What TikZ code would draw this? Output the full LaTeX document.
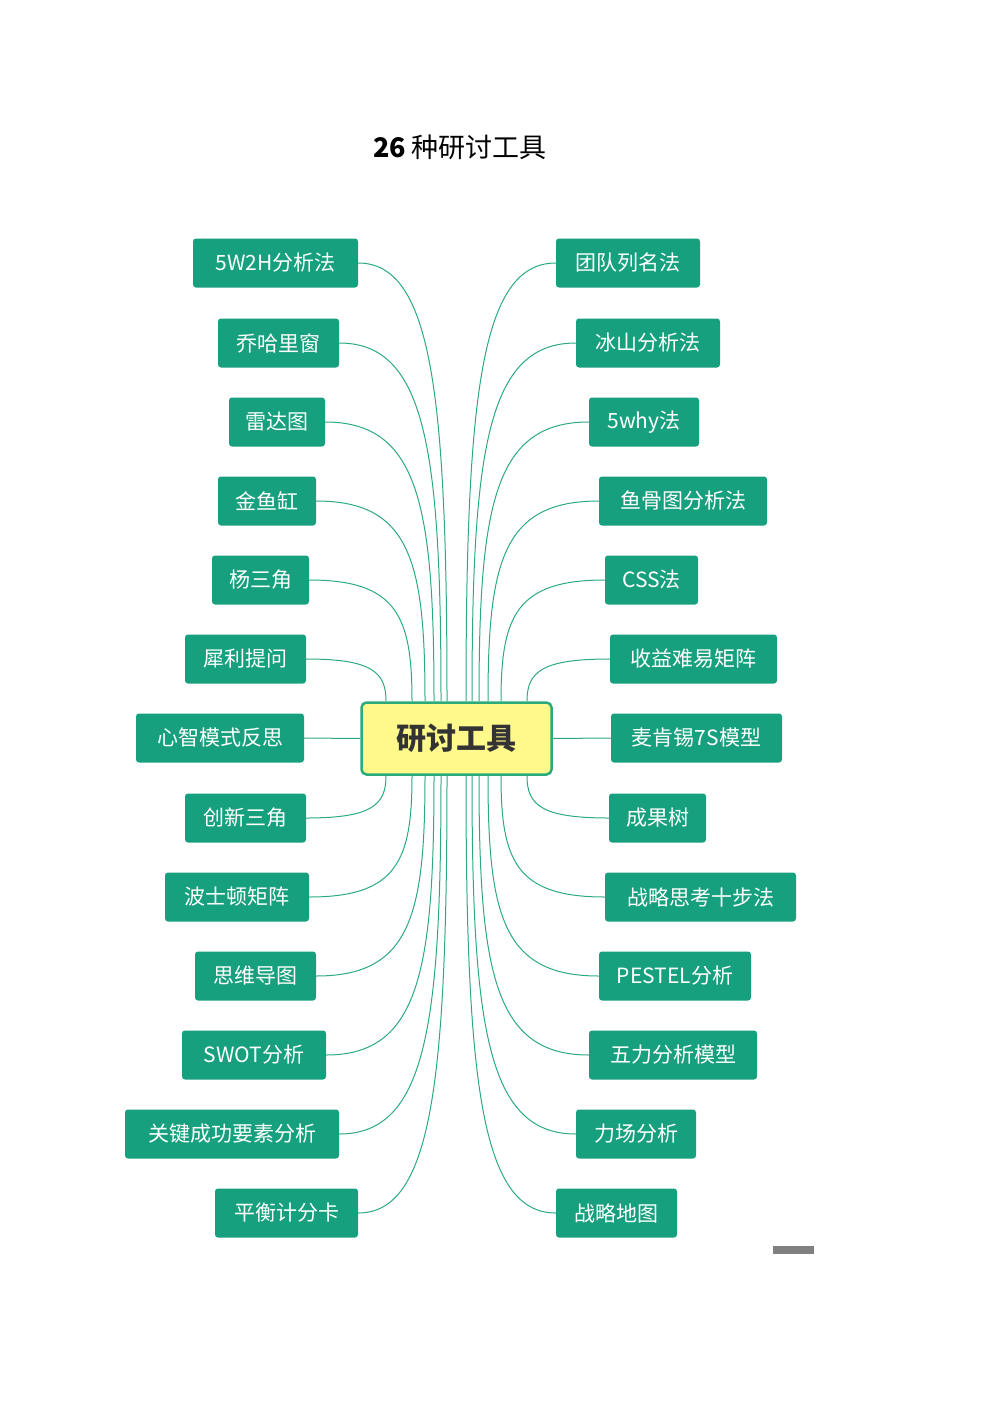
\documentclass[tikz,border=0pt]{standalone}
\usepackage{fontspec}
\setmainfont{Noto Sans CJK SC}
\begin{document}
\begin{tikzpicture}[x=1pt,y=-1pt,
  leaf/.style={fill=leafg,text=white,rounded corners=3pt,minimum height=49pt,inner xsep=0pt,font=\fontsize{21pt}{21pt}\selectfont,anchor=center},
  link/.style={draw=lineg,line width=1pt}]
\definecolor{leafg}{HTML}{17A07E}
\definecolor{lineg}{HTML}{2BAA7C}
\useasboundingbox (0,0) rectangle (992,1402);
\node at (460,147) {\fontsize{27pt}{27pt}\selectfont\textbf{26} 种研讨工具};
\node[draw=lineg,line width=2.5pt,fill=yellow!45,rounded corners=5pt,minimum width=190pt,minimum height=72pt,font=\fontsize{30pt}{30pt}\selectfont\bfseries,text=black!80] (c) at (456.5,738.5) {研讨工具};
% left nodes: name/left/right/y/text/endx
\foreach \n/\a/\b/\y/\t/\e in {
 l1/193/358/263/5W2H分析法/447,
 l2/218/339/343/乔哈里窗/441,
 l3/229/325/422/雷达图/434,
 l4/218/316/501/金鱼缸/425,
 l5/212/309/580/杨三角/412,
 l6/185/306/659/犀利提问/386}{
 \node[leaf,minimum width=\b-\a] (\n) at ({(\a+\b)/2},\y) {\t};
 \coordinate (\n e) at (\e,701);
 \draw[link] (\n.east) .. controls ({\e-15},\y) and (\e,{\y+(701-\y)*0.3}) .. (\n e);
}
\foreach \n/\a/\b/\y/\t/\e in {
 l8/185/306/818/创新三角/386,
 l9/165/309/897/波士顿矩阵/412,
 l10/195/316/976/思维导图/425,
 l11/182/326/1055/SWOT分析/434,
 l12/125/339/1134/关键成功要素分析/441,
 l13/215/358/1213/平衡计分卡/447}{
 \node[leaf,minimum width=\b-\a] (\n) at ({(\a+\b)/2},\y) {\t};
 \coordinate (\n e) at (\e,776);
 \draw[link] (\n.east) .. controls ({\e-15},\y) and (\e,{\y-(\y-776)*0.3}) .. (\n e);
}
\node[leaf,minimum width=168] (l7) at (220,738) {心智模式反思};
\draw[link] (l7.east) -- (c.west);
\foreach \n/\a/\b/\y/\t/\e in {
 r1/556/700/263/团队列名法/466,
 r2/576/720/343/冰山分析法/472,
 r3/589/699/422/5why法/479,
 r4/599/767/501/鱼骨图分析法/488,
 r5/605/698/580/CSS法/501,
 r6/610/777/659/收益难易矩阵/527}{
 \node[leaf,minimum width=\b-\a] (\n) at ({(\a+\b)/2},\y) {\t};
 \coordinate (\n e) at (\e,701);
 \draw[link] (\n.west) .. controls ({\e+15},\y) and (\e,{\y+(701-\y)*0.3}) .. (\n e);
}
\foreach \n/\a/\b/\y/\t/\e in {
 r8/609/706/818/成果树/527,
 r9/605/796/897/战略思考十步法/501,
 r10/599/751/976/PESTEL分析/488,
 r11/589/757/1055/五力分析模型/479,
 r12/576/696/1134/力场分析/472,
 r13/556/677/1213/战略地图/466}{
 \node[leaf,minimum width=\b-\a] (\n) at ({(\a+\b)/2},\y) {\t};
 \coordinate (\n e) at (\e,776);
 \draw[link] (\n.west) .. controls ({\e+15},\y) and (\e,{\y-(\y-776)*0.3}) .. (\n e);
}
\node[leaf,minimum width=171] (r7) at (696.5,738) {麦肯锡7S模型};
\draw[link] (r7.west) -- (c.east);
\fill[gray] (773,1246) rectangle (814,1254);
\end{tikzpicture}
\end{document}
